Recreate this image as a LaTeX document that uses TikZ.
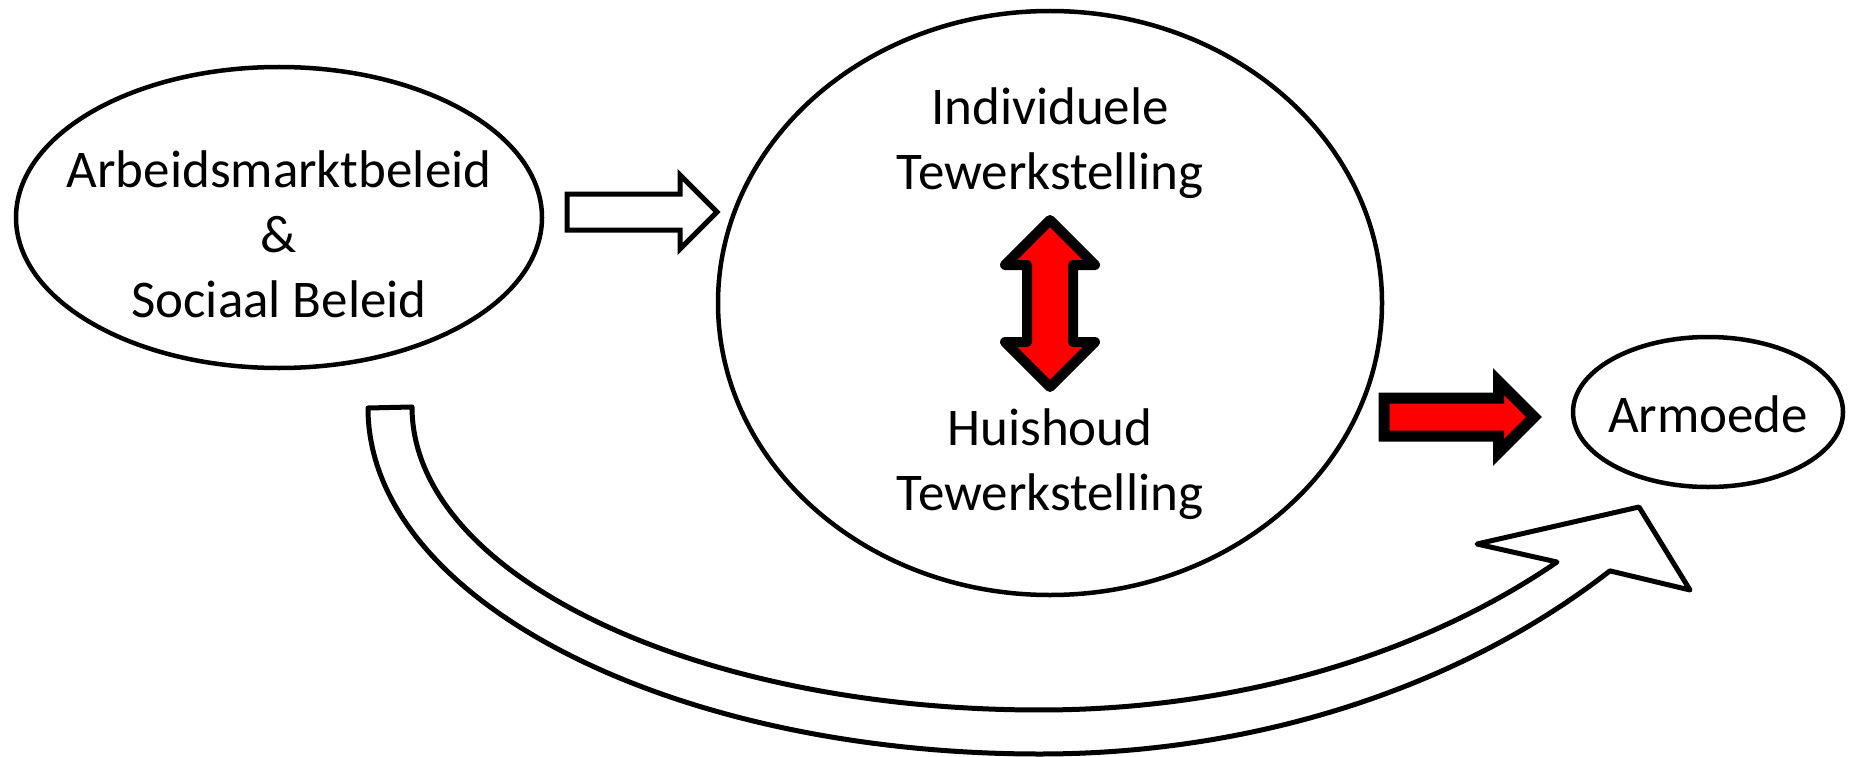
\documentclass[tikz,border=0pt]{standalone}
\usepackage{fontspec}
\setmainfont{Carlito}
\usetikzlibrary{shapes.geometric}
\begin{document}
\begin{tikzpicture}[x=1pt,y=-1pt,
  oval/.style={ellipse,draw=black,line width=4.5pt,fill=white,inner sep=0pt,outer sep=0pt},
  lbl/.style={align=center,inner sep=0pt,font=\fontsize{53}{65}\selectfont},
  whitearrow/.style={draw=black,fill=white,line width=5pt,line join=miter},
  redarrow/.style={draw=black,fill=red,line width=11pt,line join=miter},
  reddouble/.style={draw=black,fill=red,line width=10pt,line join=round},
  curvearrow/.style={draw=black,fill=white,line width=5pt,line join=round}]
\useasboundingbox (0,0) rectangle (1855,757);
\fill[white] (0,0) rectangle (1855,757);

% ellipses
\node[oval,minimum width=526pt,minimum height=301pt] (L) at (279,217.5) {};
\node[oval,minimum width=664pt,minimum height=584pt] (C) at (1050,303) {};
\node[oval,minimum width=270pt,minimum height=150pt] (R) at (1708,412) {};

% texts
\node[lbl] (Ltext) at (279,234) {Arbeidsmarktbeleid\\\&\\Sociaal Beleid};
\node[lbl] (Ctop) at (1050,143) {Individuele\\Tewerkstelling};
\node[lbl] (Cbot) at (1050,464) {Huishoud\\Tewerkstelling};
\node[lbl] (Rtext) at (1708,414) {Armoede};

% white block arrow
\path[whitearrow] (567,194) -- (680,194) -- (680,175) -- (717,212) -- (680,249) -- (680,230) -- (567,230) -- cycle;

% red double arrow
\path[reddouble] (1050,220) -- (1095,265) -- (1073,265) -- (1073,342) -- (1095,342) -- (1050,387)
  -- (1005,342) -- (1027,342) -- (1027,265) -- (1005,265) -- cycle;

% red right arrow
\path[redarrow] (1384,398) -- (1498.5,398) -- (1498.5,381.5) -- (1534,417) -- (1498.5,452.5)
  -- (1498.5,436) -- (1384,436) -- cycle;

% curved arrow
\path[curvearrow] (368,408)
  arc[start angle=180, end angle=90, x radius=672, y radius=346]
  arc[start angle=90, end angle=44.57, x radius=800, y radius=614]
  -- (1690,590) -- (1639,507) -- (1477,544) -- (1557,562)
  arc[start angle=45.68, end angle=90, x radius=740, y radius=520]
  arc[start angle=90, end angle=180, x radius=628, y radius=303]
  -- cycle;
\end{tikzpicture}
\end{document}
